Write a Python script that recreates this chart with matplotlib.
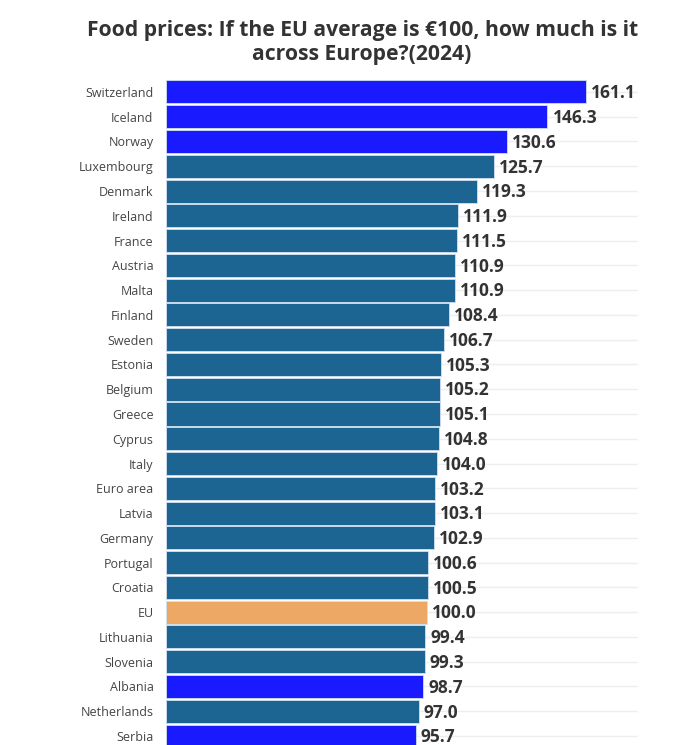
import matplotlib.pyplot as plt

plt.rcParams["font.family"] = ["Open Sans", "DejaVu Sans"]

countries = ["Switzerland", "Iceland", "Norway", "Luxembourg", "Denmark", "Ireland",
             "France", "Austria", "Malta", "Finland", "Sweden", "Estonia", "Belgium",
             "Greece", "Cyprus", "Italy", "Euro area", "Latvia", "Germany", "Portugal",
             "Croatia", "EU", "Lithuania", "Slovenia", "Albania", "Netherlands", "Serbia"]
values = [161.1, 146.3, 130.6, 125.7, 119.3, 111.9, 111.5, 110.9, 110.9, 108.4, 106.7,
          105.3, 105.2, 105.1, 104.8, 104.0, 103.2, 103.1, 102.9, 100.6, 100.5, 100.0,
          99.4, 99.3, 98.7, 97.0, 95.7]
non_eu = ["Switzerland", "Iceland", "Norway", "Albania", "Serbia"]

colors = []
for c in countries:
    if c == "EU":
        colors.append("#eea866")
    elif c in non_eu:
        colors.append("#1a1aff")
    else:
        colors.append("#1c6491")

fig = plt.figure(figsize=(6.99, 7.45), dpi=100)
ax = fig.add_axes([0.2375, -0.0046, 0.6752, 0.8978])

y = list(range(len(countries)))
ax.barh(y, values, height=0.93, color=colors, edgecolor="#cfe0f0", linewidth=0.6, zorder=2)
for yi, v in zip(y, values):
    ax.text(v + 1.9, yi + 0.05, f"{v:.1f}", va="center", ha="left", fontsize=12.5,
            fontweight="bold", color="#333333", zorder=3)

ax.set_xlim(0, 181)
ax.set_ylim(len(countries) - 0.5, -0.5)
ax.set_yticks(y)
ax.set_yticklabels(countries, fontsize=9, color="#444444")
ax.tick_params(axis="y", length=0, pad=9)
ax.set_xticks([])
ax.grid(axis="y", color="#eeeeee", linewidth=1, zorder=0)
for s in ax.spines.values():
    s.set_visible(False)

fig.text(0.518, 0.973, "Food prices: If the EU average is €100, how much is it\nacross Europe?(2024)",
         ha="center", va="top", fontsize=15.2, fontweight="bold", color="#333333",
         linespacing=1.2)

fig.savefig("out.png", dpi=100)
